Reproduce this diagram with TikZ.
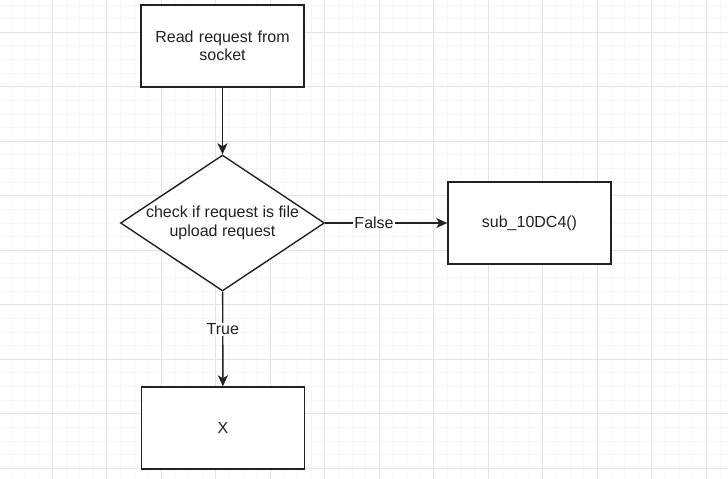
\documentclass[tikz,border=0pt]{standalone}
\usepackage{fontspec}
\setmainfont{Liberation Sans}
\usetikzlibrary{shapes.geometric}
\usetikzlibrary{arrows.meta}

\definecolor{inkgray}{HTML}{222222}
\definecolor{majorgrid}{HTML}{E4E4E4}
\definecolor{minorgrid}{HTML}{F8F8F8}

\begin{document}
\begin{tikzpicture}[x=1pt,y=-1pt,
  flowfont/.style={font=\fontsize{16}{18.5}\selectfont, text=inkgray},
  procbox/.style={draw=inkgray, line width=1.4pt, fill=white, flowfont,
    minimum width=163pt, minimum height=82pt, text width=152pt, align=center, inner sep=0pt},
  decision/.style={diamond, draw=inkgray, line width=1.4pt, fill=white,
    minimum width=204pt, minimum height=136pt, inner sep=0pt},
  flow/.style={draw=inkgray, line width=1.4pt, -{Stealth[length=11pt,width=10pt,inset=3pt]}},
  edgelbl/.style={flowfont, fill=white, inner sep=1pt, pos=0.4}]

  \useasboundingbox (0,0) rectangle (728,479);
  \fill[white] (0,0) rectangle (728,479);

  % background grid
  \foreach \i in {-4,...,50} {
    \draw[minorgrid, line width=0.8pt] ({52.3+13.625*\i},0) -- ++(0,479);
  }
  \foreach \i in {-3,...,33} {
    \draw[minorgrid, line width=0.8pt] (0,{32.2+13.625*\i}) -- ++(728,0);
  }
  \foreach \i in {-1,...,12} {
    \draw[majorgrid, line width=1pt] ({52.3+54.5*\i},0) -- ++(0,479);
  }
  \foreach \i in {-1,...,8} {
    \draw[majorgrid, line width=1pt] (0,{32.2+54.5*\i}) -- ++(728,0);
  }

  \coordinate (readpos) at (222.5,46);
  \coordinate (checkpos) at (222.5,223);
  \coordinate (subpos) at (529.5,223);
  \coordinate (xpos) at (223,428);

  \node[procbox] (read) at (readpos) {Read request from\\socket};
  \node[decision, label={[flowfont, align=center]center:check if request is file\\upload request}] (check) at (checkpos) {};
  \node[procbox] (sub) at (subpos) {sub\_10DC4()};
  \node[procbox] (x) at (xpos) {X};

  \draw[flow] (read) -- (check);
  \draw[flow] (check) -- node[edgelbl] {False} (sub);
  \draw[flow] (check) -- node[edgelbl] {True} (x);

\end{tikzpicture}
\end{document}
